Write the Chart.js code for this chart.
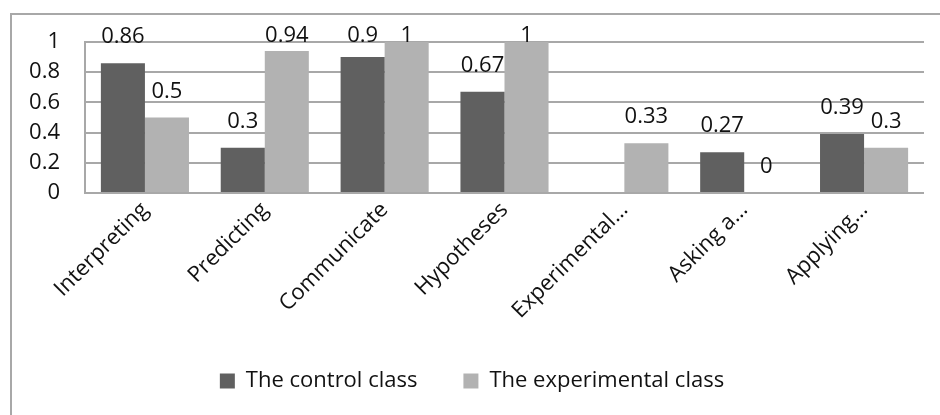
<!DOCTYPE html>
<html>
<head>
<meta charset="utf-8">
<script src="https://cdn.jsdelivr.net/npm/chart.js@4/dist/chart.umd.min.js"></script>
<style>
  html, body { margin: 0; padding: 0; background: #fff; overflow: hidden; }
  #wrap { position: relative; width: 940px; height: 415px; overflow: hidden; }
  #frame { position: absolute; left: 10px; top: 13px; width: 1000px; height: 1000px; border: 2px solid #a8a8a8; box-sizing: border-box; }
  canvas { position: absolute; left: 0; top: 0; }
</style>
</head>
<body>
<div id="wrap">
  <div id="frame"></div>
  <canvas id="chart" width="940" height="415"></canvas>
</div>
<script>
// data
var categories = ['Interpreting', 'Predicting', 'Communicate', 'Hypotheses', 'Experimental…', 'Asking a…', 'Applying…'];
var controlClass = [0.86, 0.3, 0.9, 0.67, null, 0.27, 0.39];
var experimentalClass = [0.5, 0.94, 1, 1, 0.33, 0, 0.3];
var yTicks = [0, 0.2, 0.4, 0.6, 0.8, 1];

var FONT = '"Open Sans", sans-serif';

// value labels above the bars
var valueLabels = {
    id: 'valueLabels',
    afterDatasetsDraw: function(chart) {
        var ctx = chart.ctx;
        ctx.save();
        ctx.font = '22px ' + FONT;
        ctx.fillStyle = '#111';
        ctx.textAlign = 'center';
        ctx.textBaseline = 'middle';
        chart.data.datasets.forEach(function(ds, di) {
            var meta = chart.getDatasetMeta(di);
            meta.data.forEach(function(bar, i) {
                var v = ds.data[i];
                if (v === null || v === undefined) return;
                var y = Math.max(bar.y - 26, 36);
                ctx.fillText(String(v), bar.x, y);
            });
        });
        ctx.restore();
    }
};

var ctx = document.getElementById('chart').getContext('2d');
var chart = new Chart(ctx, {
    type: 'bar',
    data: {
        labels: categories,
        datasets: [{
            label: 'The control class',
            data: controlClass,
            backgroundColor: '#606060',
            borderWidth: 0
        }, {
            label: 'The experimental class',
            data: experimentalClass,
            backgroundColor: '#b2b2b2',
            borderWidth: 0
        }]
    },
    options: {
        responsive: false,
        animation: false,
        layout: { padding: { left: 20, top: 42, right: 16, bottom: 13 } },
        datasets: { bar: { categoryPercentage: 0.735, barPercentage: 1 } },
        scales: {
            x: {
                grid: { display: false, drawTicks: false },
                border: { display: false },
                ticks: {
                    color: '#111',
                    font: { family: FONT, size: 22 },
                    minRotation: 45,
                    maxRotation: 45,
                    padding: 4
                },
                afterFit: function(scale) { scale.height = 131; }
            },
            y: {
                min: 0,
                max: 1,
                afterBuildTicks: function(scale) {
                    scale.ticks = yTicks.map(function(v) { return { value: v }; });
                },
                grid: { color: '#a8a8a8', lineWidth: 2, drawTicks: false },
                border: { display: true, color: '#a8a8a8', width: 2 },
                ticks: {
                    color: '#111',
                    font: { family: FONT, size: 22 },
                    padding: 25,
                    callback: function(v) { return String(v); }
                },
                afterFit: function(scale) { scale.width = 65; }
            }
        },
        plugins: {
            legend: {
                position: 'bottom',
                labels: {
                    color: '#111',
                    font: { family: FONT, size: 22 },
                    boxWidth: 15,
                    boxHeight: 15,
                    padding: 46
                }
            },
            tooltip: { enabled: false }
        }
    },
    plugins: [valueLabels]
});
</script>
</body>
</html>
